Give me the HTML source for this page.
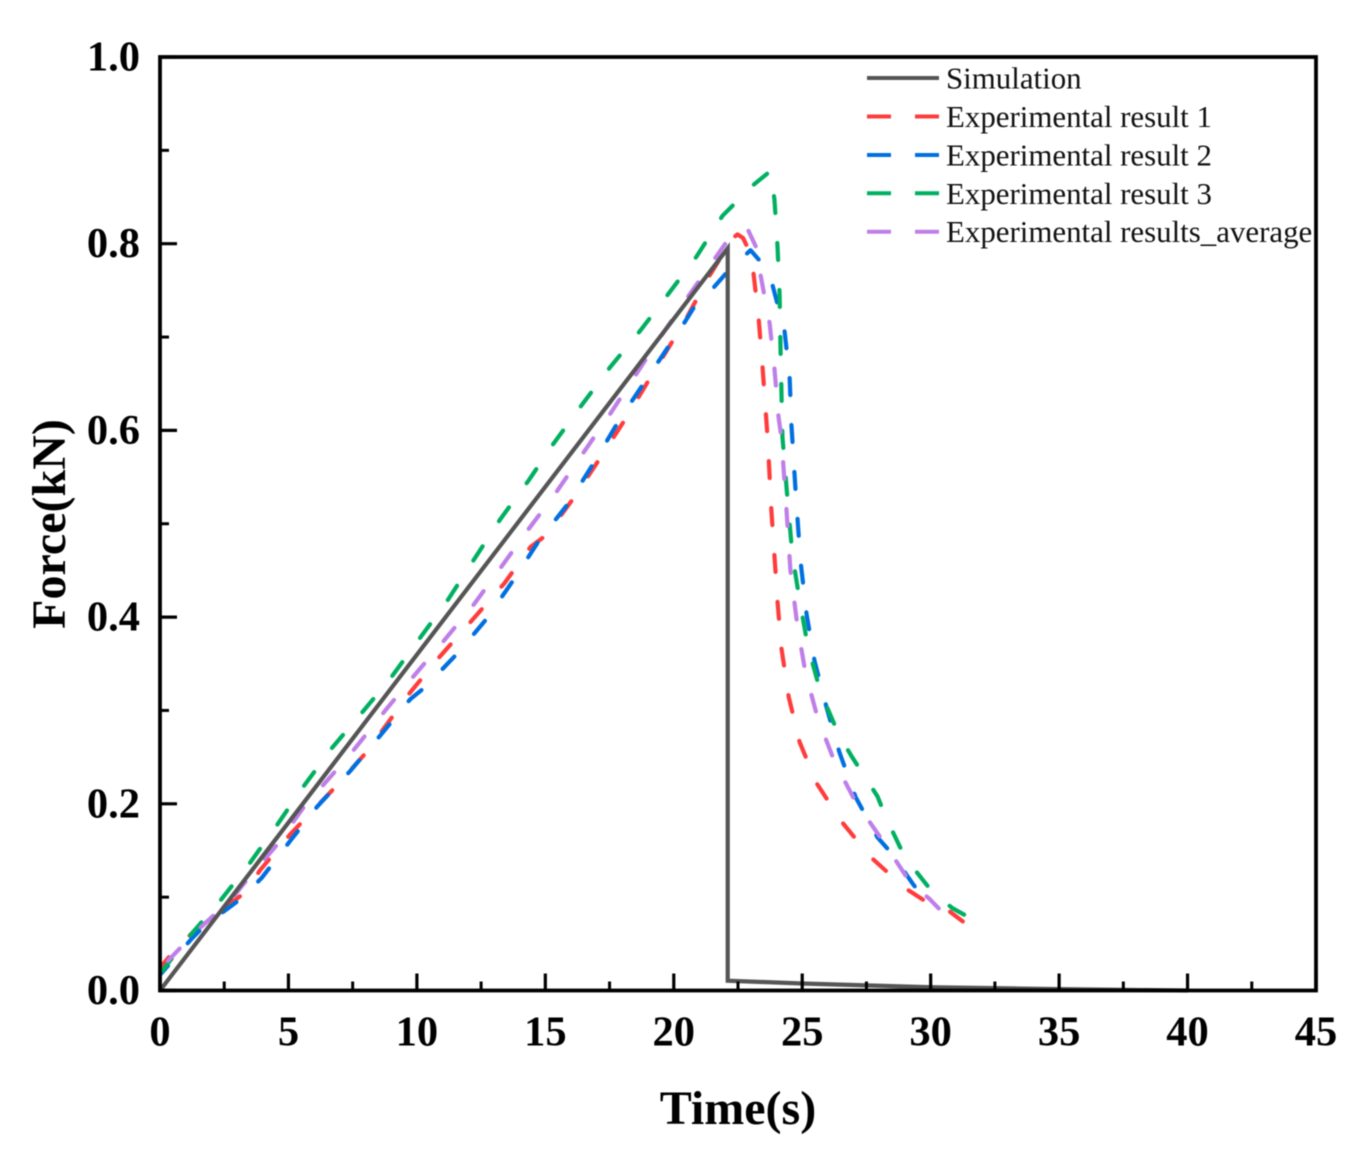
<!DOCTYPE html>
<html lang="en">
<head>
<meta charset="utf-8">
<title>Force vs Time chart</title>
<style>
html,body{margin:0;padding:0;background:#fff;}
svg{display:block;filter:blur(0.55px);}
text{font-family:"Liberation Serif",serif;fill:#000;}
.tick-label{font-size:42.5px;font-weight:bold;}
.axis-title{font-size:48px;font-weight:bold;}
.legend-label{font-size:30.9px;fill:#111;}
</style>
</head>
<body>
<svg id="chart" xmlns="http://www.w3.org/2000/svg" width="1364" height="1163" viewBox="0 0 1364 1163">
  <rect x="0" y="0" width="1364" height="1163" fill="#fff"/>
  <g id="series-layer"></g>
  <g id="axis-layer"></g>
  <text class="axis-title" x="738" y="1124" text-anchor="middle">Time(s)</text>
  <text class="axis-title" transform="translate(65,524) rotate(-90)" text-anchor="middle">Force(kN)</text>
  <g id="legend-layer"></g>
</svg>
<script>
var xTicks = [0, 5, 10, 15, 20, 25, 30, 35, 40, 45];
var xMinorTicks = [2.5, 7.5, 12.5, 17.5, 22.5, 27.5, 32.5, 37.5, 42.5];
var yTicks = [0, 0.2, 0.4, 0.6, 0.8, 1.0];
var yMinorTicks = [0.1, 0.3, 0.5, 0.7, 0.9];
var xTickLabels = ['0', '5', '10', '15', '20', '25', '30', '35', '40', '45'];
var yTickLabels = ['0.0', '0.2', '0.4', '0.6', '0.8', '1.0'];

var simT = [0, 22.1, 22.1, 25, 30, 35, 40];
var simF = [0, 0.795, 0.0105, 0.0075, 0.0035, 0.0015, 0];

var exp1T = [0.08, 0.51, 1.56, 2.73, 3.31, 3.90, 5.06, 6.93, 8.06, 9.70, 10.87, 12.16, 13.40, 14.42, 15.04, 16.09, 17.10, 18.04, 19.56, 20.45, 21.35, 22.05, 22.30, 22.48, 22.70, 22.87, 23.10, 23.30, 23.45, 23.65, 23.80, 24.04, 24.19, 24.47, 24.90, 25.56, 26.53, 27.66, 28.99, 29.77, 30.58, 31.25];
var exp1F = [0.027, 0.041, 0.070, 0.093, 0.105, 0.129, 0.167, 0.221, 0.256, 0.318, 0.357, 0.397, 0.436, 0.475, 0.488, 0.527, 0.569, 0.609, 0.678, 0.718, 0.764, 0.795, 0.806, 0.810, 0.806, 0.796, 0.769, 0.721, 0.670, 0.593, 0.514, 0.416, 0.367, 0.315, 0.266, 0.222, 0.181, 0.143, 0.110, 0.096, 0.088, 0.074];

var exp2T = [0.04, 1.25, 1.75, 2.65, 3.23, 3.97, 5.06, 6.12, 7.40, 8.57, 9.74, 10.32, 11.61, 12.74, 13.79, 14.73, 15.90, 16.95, 17.92, 19.48, 20.45, 20.88, 21.55, 22.09, 22.79, 22.99, 23.34, 23.84, 24.31, 24.51, 24.58, 24.74, 24.93, 25.17, 25.48, 25.95, 26.45, 27.08, 27.93, 28.48, 29.26, 29.80];
var exp2F = [0.018, 0.056, 0.070, 0.088, 0.100, 0.121, 0.160, 0.197, 0.235, 0.273, 0.312, 0.325, 0.362, 0.399, 0.441, 0.481, 0.522, 0.568, 0.613, 0.677, 0.717, 0.736, 0.753, 0.770, 0.788, 0.793, 0.782, 0.756, 0.707, 0.657, 0.606, 0.536, 0.461, 0.403, 0.353, 0.303, 0.255, 0.207, 0.164, 0.147, 0.116, 0.096];

var exp3T = [0.08, 1.17, 2.34, 3.51, 4.60, 5.57, 6.70, 7.87, 8.96, 10.13, 11.22, 12.23, 13.25, 14.34, 15.27, 16.44, 17.53, 18.70, 19.81, 20.88, 21.90, 23.10, 23.77, 23.92, 24.04, 24.12, 24.15, 24.19, 24.23, 24.43, 24.62, 24.90, 25.21, 25.71, 26.41, 26.92, 27.93, 28.25, 28.99, 30.08, 30.86, 31.65];
var exp3F = [0.021, 0.059, 0.096, 0.137, 0.179, 0.218, 0.260, 0.298, 0.334, 0.378, 0.419, 0.462, 0.505, 0.546, 0.584, 0.628, 0.668, 0.707, 0.747, 0.786, 0.830, 0.863, 0.878, 0.847, 0.796, 0.745, 0.695, 0.643, 0.593, 0.525, 0.466, 0.418, 0.370, 0.320, 0.275, 0.251, 0.208, 0.186, 0.143, 0.105, 0.088, 0.076];

var avgT = [0.08, 0.70, 1.36, 2.03, 2.73, 3.31, 4.52, 5.61, 6.86, 7.52, 8.77, 9.82, 11.03, 12.23, 13.29, 14.34, 15.43, 16.48, 17.53, 19.48, 20.65, 21.70, 22.13, 22.52, 22.87, 23.26, 23.38, 23.73, 23.92, 24.08, 24.19, 24.39, 24.54, 24.82, 25.13, 25.60, 26.26, 27.08, 28.17, 29.22, 29.96, 30.31, 30.78];
var avgF = [0.025, 0.043, 0.062, 0.079, 0.096, 0.116, 0.155, 0.197, 0.236, 0.257, 0.300, 0.335, 0.374, 0.414, 0.454, 0.494, 0.534, 0.576, 0.618, 0.700, 0.747, 0.788, 0.805, 0.812, 0.816, 0.793, 0.766, 0.715, 0.666, 0.614, 0.592, 0.514, 0.450, 0.389, 0.340, 0.292, 0.245, 0.202, 0.159, 0.115, 0.098, 0.088, 0.084];

var legendLabels = ['Simulation', 'Experimental result 1', 'Experimental result 2', 'Experimental result 3', 'Experimental results_average'];

var SVG_NS = 'http://www.w3.org/2000/svg';
var plotLeft = 160, plotRight = 1316, plotTop = 57, plotBottom = 990.5;
function xScale(t) { return plotLeft + (t / 45) * (plotRight - plotLeft); }
function yScale(f) { return plotBottom - f * (plotBottom - plotTop); }

function svgEl(tag, attrs, parent) {
  var el = document.createElementNS(SVG_NS, tag);
  for (var k in attrs) { el.setAttribute(k, attrs[k]); }
  parent.appendChild(el);
  return el;
}
function linePath(ts, fs) {
  var d = '';
  for (var i = 0; i < ts.length; i++) {
    d += (i ? 'L' : 'M') + xScale(ts[i]).toFixed(2) + ' ' + yScale(fs[i]).toFixed(2);
  }
  return d;
}

var seriesLayer = document.getElementById('series-layer');
var axisLayer = document.getElementById('axis-layer');
var legendLayer = document.getElementById('legend-layer');

var red = '#ff3c3c', blue = '#0070e0', green = '#00b060', purple = '#bf7ee8', gray = '#555555';
var dash = '17 30';
var lineWidth = 4.2;

var p1 = svgEl('path', { d: linePath(exp1T, exp1F), fill: 'none', stroke: red, 'stroke-width': lineWidth, 'stroke-dasharray': dash, 'stroke-dashoffset': 6.5, 'stroke-linecap': 'round', 'stroke-linejoin': 'round' }, seriesLayer);


var p2 = svgEl('path', { d: linePath(exp2T, exp2F), fill: 'none', stroke: blue, 'stroke-width': lineWidth, 'stroke-dasharray': dash, 'stroke-dashoffset': 6.5, 'stroke-linecap': 'round', 'stroke-linejoin': 'round' }, seriesLayer);


var p3 = svgEl('path', { d: linePath(exp3T, exp3F), fill: 'none', stroke: green, 'stroke-width': lineWidth, 'stroke-dasharray': dash, 'stroke-dashoffset': 1.5, 'stroke-linecap': 'round', 'stroke-linejoin': 'round' }, seriesLayer);


var p4 = svgEl('path', { d: linePath(avgT, avgF), fill: 'none', stroke: purple, 'stroke-width': lineWidth, 'stroke-dasharray': dash, 'stroke-dashoffset': -8.5, 'stroke-linecap': 'round', 'stroke-linejoin': 'round' }, seriesLayer);


var p0 = svgEl('path', { d: linePath(simT, simF), fill: 'none', stroke: gray, 'stroke-width': 4.2, 'stroke-linejoin': 'miter' }, seriesLayer);



var frame = svgEl('rect', { x: plotLeft, y: plotTop, width: plotRight - plotLeft, height: plotBottom - plotTop, fill: 'none', stroke: '#000', 'stroke-width': 3.8 }, axisLayer);



xTicks.forEach(function (t, i) {
  var x = xScale(t);
  var tk = svgEl('line', { x1: x, x2: x, y1: plotBottom, y2: plotBottom - 17, stroke: '#000', 'stroke-width': 3.2 }, axisLayer);
  
  
  var lb = svgEl('text', { x: x, y: 1045.5, 'text-anchor': 'middle', 'class': 'tick-label' }, axisLayer);
  lb.textContent = xTickLabels[i];
  
  
});
xMinorTicks.forEach(function (t) {
  var x = xScale(t);
  var tk = svgEl('line', { x1: x, x2: x, y1: plotBottom, y2: plotBottom - 9, stroke: '#000', 'stroke-width': 3 }, axisLayer);
  
  
});
yTicks.forEach(function (f, i) {
  var y = yScale(f);
  var tk = svgEl('line', { x1: plotLeft, x2: plotLeft + 17, y1: y, y2: y, stroke: '#000', 'stroke-width': 3.2 }, axisLayer);
  
  
  var lb = svgEl('text', { x: 140, y: y + 13.5, 'text-anchor': 'end', 'class': 'tick-label' }, axisLayer);
  lb.textContent = yTickLabels[i];
  
  
});
yMinorTicks.forEach(function (f) {
  var y = yScale(f);
  var tk = svgEl('line', { x1: plotLeft, x2: plotLeft + 9, y1: y, y2: y, stroke: '#000', 'stroke-width': 3 }, axisLayer);
  
  
});

var legendColors = [gray, red, blue, green, purple];
var legendRows = [78, 116.5, 155, 193.3, 231.7];
legendLabels.forEach(function (label, i) {
  var y = legendRows[i];
  var smp = svgEl('line', { x1: 867, x2: 939, y1: y, y2: y, stroke: legendColors[i], 'stroke-width': 4 }, legendLayer);
  if (i > 0) { smp.setAttribute('stroke-dasharray', '24 24'); }
  
  
  var tx = svgEl('text', { x: 946, y: y + 10.5, 'class': 'legend-label' }, legendLayer);
  tx.textContent = label;
  
  
});
</script>
</body>
</html>
